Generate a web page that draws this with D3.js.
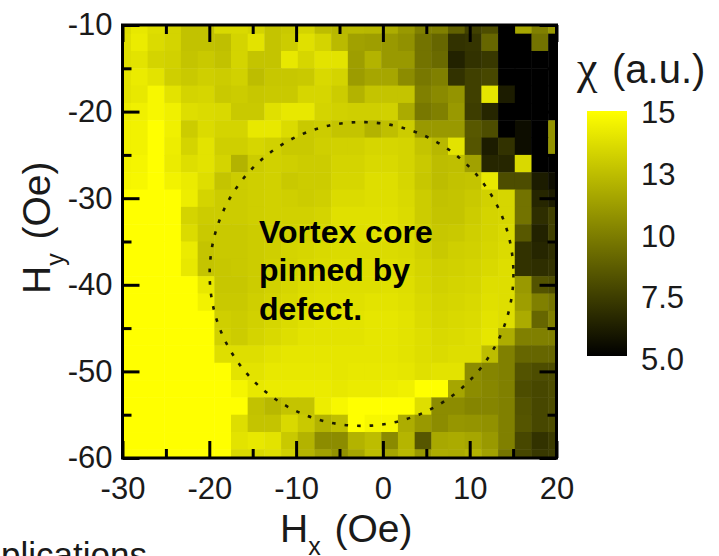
<!DOCTYPE html>
<html>
<head>
<meta charset="utf-8">
<script src="https://cdn.jsdelivr.net/npm/d3@7"></script>
<style>
    html, body { margin: 0; padding: 0; background: #fff; overflow: hidden; }
    svg { display: block; font-family: "Liberation Sans", Arial, sans-serif; }
    .axis path { display: none; }
    .axis line { stroke: #000; stroke-width: 3px; }
    .axis text { font-size: 31px; fill: #1a1a1a; font-family: "Liberation Sans", Arial, sans-serif; }
</style>
</head>
<body>
<div id="chart"></div>
<script>
// field positions of the scan
const hxValues = [-30, -28.08, -26.15, -24.23, -22.31, -20.38, -18.46, -16.54, -14.62, -12.69, -10.77, -8.85, -6.92,
    -5, -3.08, -1.15, 0.77, 2.69, 4.62, 6.54, 8.46, 10.38, 12.31, 14.23, 16.15, 18.08, 20];
const hyValues = [-10, -12, -14, -16, -18, -20, -22, -24, -26, -28, -30, -32, -34, -36, -38, -40, -42, -44, -46, -48,
    -50, -52, -54, -56, -58, -60];

// susceptibility, one line per Hy
const chiRows = [
    [13.6,14.1,13.7,13.3,12.6,12.6,13.5,13.5,13.3,12.7,12.9,13.3,12.4,12.2,12.3,12.2,11.8,11,10,10,8.8,7.5,8,5,11.5,10,11],
    [13.7,14.2,13.6,13.3,12.6,12.6,12.5,13.3,13.9,12.7,13,13.8,13.3,12.3,11.3,11.2,11,10.7,9.5,9,7,7.1,9,5,5,9.5,5.2],
    [13.7,13.9,13.3,13.2,12.7,12.9,12.6,13.3,12.7,12.7,14.1,13.4,13.9,13.9,11.2,12,11,11,9.5,9.2,6.3,7,7.2,5,5,5,5],
    [13.9,14.2,13.9,13.1,12.9,13.1,13,13.2,12.4,12.8,12.8,12.9,13.5,13.3,11.1,11.5,11.5,10.5,9.7,10,7,7.5,7.8,5,5,5,5],
    [13.9,14.1,14.7,13.9,13.3,13.4,12.9,13,12.8,12.9,12.9,13.4,13.4,13,12,12.7,12.7,12.7,10,10.4,10.8,7.5,14,6.1,5,5,5],
    [14.2,14.4,14.7,14.4,13.7,13.6,13.5,12.9,12.9,13.8,14.1,14.1,13.3,13.2,13.1,13.1,13.2,11.7,9.7,10,11,7.4,6.5,5,5,5,5],
    [14.4,14.5,15,14.4,13,13.6,13.3,13.3,14.1,14.1,13.6,12.9,13,12.7,12.7,12,12.5,13,11,11,11,8.5,8,5,5.6,5,10.8],
    [14.4,14.5,15,14.3,13.3,13.9,13.1,13.1,13.4,13.2,12.9,12.9,13.1,13.2,13.2,13.4,13.4,13.3,12.7,12.2,13.9,8.3,6,7,5.6,5,10.8],
    [14.5,14.6,15,14.2,13.7,13.9,13.3,12,13,13.2,13.1,13,13,13.3,13.3,13.5,13.5,13.3,12.9,12.4,12.5,11.3,6.5,6.5,13.5,5,5],
    [14.6,14.7,15,14.5,14.2,13.7,12.7,13,13.1,13.2,12.9,13,13,13.4,13.4,13.7,13.7,13.4,12.8,12.4,12.6,12.7,14.1,8,8,6,5.5],
    [15,15,15,15,14.3,13.3,13,13,13.1,13.2,13.1,13,13.1,13.6,13.6,13.7,13.7,13.5,13,12.6,12.7,12.9,13.2,13.4,9.5,6.5,6],
    [15,15,15,15,13.3,13,13,13,13.1,13.2,13.2,13.2,13.3,13.8,13.8,13.8,13.8,13.6,13,12.7,12.7,13,13.3,13.4,9.5,6.8,7.5],
    [15,15,15,15,13.6,12.9,12.9,12.9,13,13.1,13.2,13.3,13.4,13.7,13.7,13.8,13.9,13.6,13.1,12.8,12.9,13.1,13.3,13.5,8.5,6.3,7.5],
    [15,15,15,15,14.2,12.7,12.9,12.9,13,13.1,13.3,13.4,13.5,13.6,13.6,13.6,13.6,13.5,13.2,12.9,13.1,13.2,13.4,13.6,7,6.5,6.8],
    [15,15,15,15,14.1,12.7,12.8,12.9,13,13.2,13.3,13.5,13.6,13.7,13.7,13.7,13.7,13.6,13.3,13.1,13.2,13.3,13.5,13.7,7,6.8,7],
    [15,15,15,15,15,14.1,12.8,12.8,13,13.2,13.4,13.6,13.7,13.7,13.7,13.7,13.8,13.7,13.4,13.2,13.3,13.4,13.7,13.7,11,8.2,8],
    [15,15,15,15,15,14.5,12.9,12.9,13.1,13.3,13.5,13.7,13.8,13.8,13.8,13.9,13.9,13.8,13.5,13.3,13.4,13.5,13.8,13.7,11.2,10,9.6],
    [15,15,15,15,15,15,13.1,13,13.2,13.4,13.6,13.8,13.9,13.9,13.9,14,14,13.9,13.6,13.4,13.5,13.6,13.9,13.7,11.7,9,10],
    [15,15,15,15,15,15,13.2,13,13.3,13.5,13.7,13.9,13.9,13.9,13.9,14,14,13.9,13.7,13.5,13.6,13.7,14,11.8,10,10,10],
    [15,15,15,15,15,15,13.7,13.7,13.7,13.9,14,14,14,14,14,14,14,13.9,13.7,13.6,13.7,13.7,12.4,10,9,9,9],
    [15,15,15,15,15,15,15,13.9,13.9,14.1,14.1,14.1,14.1,14,14.1,14.1,14.1,14,13.8,13.9,13.9,10.5,10.2,10,8.2,8,8],
    [15,15,15,15,15,15,15,14.6,14.1,14.2,14.2,14.2,14.2,14.1,14.2,14.2,14.3,14.4,15,15,11.5,10.5,10.3,10,8,7.8,8],
    [15,15,15,15,15,15,15,15,12.6,12.2,12.7,12.7,14.3,14.7,15,15,15,15,13.7,10.5,10.5,10.2,10.2,10,8.2,7.8,8],
    [15,15,15,15,15,15,15,13.7,12.7,12.7,13.5,12.9,12,12.5,15,14.7,14.7,11.8,11,10.5,10.9,10.8,10.7,10,8.3,7.8,8],
    [15,15,15,15,15,15,15,13.9,14.1,13.9,12.9,12,10.5,10.5,12,12.4,10.4,12.1,8.4,11.6,11.7,11.5,11,10,7.8,7,7.3],
    [15,15,15,15,15,15,15,13.5,13.5,13.7,13.2,12,11.3,10.7,11.5,12.4,11.5,12.2,11,11.8,11.7,12,11.3,9.6,7.8,7.2,7.3]
];

const xMajor = [-30, -20, -10, 0, 10, 20];
const xMinor = [-25, -15, -5, 5, 15];
const yMajor = [-10, -20, -30, -40, -50, -60];
const yMinor = [-15, -25, -35, -45, -55];

// colour bar
const barDomain = [5, 15];
const barTicks = ["15", "13", "10", "7.5", "5.0"];
const barTickValues = [15, 12.5, 10, 7.5, 5];

// dotted outline of the pinned region, in Oe
const coreCenter = [-2.46, -38.75];
const coreRadius = 17.5;

const noteLines = ["Vortex core", "pinned by", "defect."];

const width = 719, height = 556;
const svg = d3.select("#chart").append("svg").attr("width", width).attr("height", height);

const x = d3.scaleLinear().domain([-30, 20]).range([122.5, 556.5]);
const y = d3.scaleLinear().domain([-10, -60]).range([25, 458]);
const color = d3.scaleLinear().domain(barDomain).range(["#000000", "#ffff00"]).clamp(true);

const defs = svg.append("defs");
defs.append("clipPath").attr("id", "plot-clip").append("rect")
    .attr("x", x(-30)).attr("y", y(-10))
    .attr("width", x(20) - x(-30)).attr("height", y(-60) - y(-10));
defs.append("filter").attr("id", "soft").append("feGaussianBlur").attr("stdDeviation", 0.6);

const barGradient = defs.append("linearGradient").attr("id", "bar-gradient")
    .attr("x1", 0).attr("y1", 1).attr("x2", 0).attr("y2", 0);
barGradient.selectAll("stop")
    .data(barDomain)
    .join("stop")
    .attr("offset", (d, i) => i)
    .attr("stop-color", d => color(d));

// heat map
const cellW = x(hxValues[1]) - x(hxValues[0]);
const cellH = y(hyValues[1]) - y(hyValues[0]);
const cells = [];
chiRows.forEach((row, r) => row.forEach((chi, c) => cells.push({ hx: hxValues[c], hy: hyValues[r], chi: chi })));

svg.append("g").attr("clip-path", "url(#plot-clip)")
    .append("g").attr("filter", "url(#soft)")
    .selectAll("rect")
    .data(cells)
    .join("rect")
    .attr("x", d => x(d.hx) - cellW / 2)
    .attr("y", d => y(d.hy) - cellH / 2)
    .attr("width", cellW + 0.5)
    .attr("height", cellH + 0.5)
    .attr("fill", d => color(d.chi));

// dotted circle
svg.append("circle")
    .attr("cx", x(coreCenter[0]))
    .attr("cy", y(coreCenter[1]))
    .attr("r", x(coreRadius) - x(0))
    .attr("fill", "none")
    .attr("stroke", "#1c1c00")
    .attr("stroke-width", 2.6)
    .attr("stroke-dasharray", "3.6 9");

// note
svg.append("g").selectAll("text")
    .data(noteLines)
    .join("text")
    .attr("x", 259)
    .attr("y", (d, i) => 242.5 + i * 38.7)
    .attr("font-size", 32)
    .attr("font-weight", "bold")
    .attr("fill", "#000")
    .text(d => d);

// axes: long ticks labelled, short ticks bare, mirrored on top and right
const majorLen = 17, minorLen = 9;
const plainLabel = d => String(d);
svg.append("g").attr("class", "axis").attr("transform", `translate(0,${y(-60)})`)
    .call(d3.axisBottom(x).tickValues(xMajor).tickSizeInner(-majorLen).tickSizeOuter(0).tickPadding(19).tickFormat(plainLabel));
svg.append("g").attr("class", "axis").attr("transform", `translate(0,${y(-60)})`)
    .call(d3.axisBottom(x).tickValues(xMinor).tickSizeInner(-minorLen).tickSizeOuter(0).tickFormat(""));
svg.append("g").attr("class", "axis").attr("transform", `translate(0,${y(-10)})`)
    .call(d3.axisTop(x).tickValues(xMajor).tickSizeInner(-majorLen).tickSizeOuter(0).tickFormat(""));
svg.append("g").attr("class", "axis").attr("transform", `translate(0,${y(-10)})`)
    .call(d3.axisTop(x).tickValues(xMinor).tickSizeInner(-minorLen).tickSizeOuter(0).tickFormat(""));
svg.append("g").attr("class", "axis").attr("transform", `translate(${x(-30)},0)`)
    .call(d3.axisLeft(y).tickValues(yMajor).tickSizeInner(-majorLen).tickSizeOuter(0).tickPadding(10).tickFormat(plainLabel));
svg.append("g").attr("class", "axis").attr("transform", `translate(${x(-30)},0)`)
    .call(d3.axisLeft(y).tickValues(yMinor).tickSizeInner(-minorLen).tickSizeOuter(0).tickFormat(""));
svg.append("g").attr("class", "axis").attr("transform", `translate(${x(20)},0)`)
    .call(d3.axisRight(y).tickValues(yMajor).tickSizeInner(-majorLen).tickSizeOuter(0).tickFormat(""));
svg.append("g").attr("class", "axis").attr("transform", `translate(${x(20)},0)`)
    .call(d3.axisRight(y).tickValues(yMinor).tickSizeInner(-minorLen).tickSizeOuter(0).tickFormat(""));

svg.append("rect")
    .attr("x", x(-30)).attr("y", y(-10))
    .attr("width", x(20) - x(-30)).attr("height", y(-60) - y(-10))
    .attr("fill", "none").attr("stroke", "#000").attr("stroke-width", 3);

// axis titles
const xTitle = svg.append("text").attr("x", 280).attr("y", 542).attr("font-size", 39).attr("fill", "#1a1a1a");
xTitle.append("tspan").text("H");
xTitle.append("tspan").attr("font-size", 25).attr("dy", 13).text("x");
xTitle.append("tspan").attr("dy", -13).attr("dx", 3).text(" (Oe)");

const yTitle = svg.append("text").attr("transform", "translate(50,294) rotate(-90)").attr("font-size", 39).attr("fill", "#1a1a1a");
yTitle.append("tspan").text("H");
yTitle.append("tspan").attr("font-size", 25).attr("dy", 14).text("y");
yTitle.append("tspan").attr("dy", -14).attr("dx", 3).text(" (Oe)");

// colour bar
const barY = d3.scaleLinear().domain(barDomain).range([356, 111]);
svg.append("rect")
    .attr("x", 587)
    .attr("y", barY(15))
    .attr("width", 40)
    .attr("height", barY(5) - barY(15))
    .attr("fill", "url(#bar-gradient)");

const barLabelY = d3.scalePoint().domain(barTickValues).range([123, 370]);
svg.append("g").selectAll("text")
    .data(barTicks)
    .join("text")
    .attr("x", 641)
    .attr("y", (d, i) => barLabelY(barTickValues[i]))
    .attr("font-size", 31)
    .attr("fill", "#1a1a1a")
    .text(d => d);

const barTitle = svg.append("text").attr("y", 83).attr("font-size", 40).attr("fill", "#1a1a1a");
barTitle.append("tspan").attr("x", 577).attr("font-size", 46).attr("font-family", "'Liberation Serif', serif").text("χ");
barTitle.append("tspan").attr("x", 612).text("(a.u.)");

// caption fragment cut by the bottom edge of the image
svg.append("text").attr("x", 147).attr("y", 567).attr("text-anchor", "end")
    .attr("font-size", 35).attr("fill", "#1a1a1a").text("plications");
</script>
</body>
</html>
